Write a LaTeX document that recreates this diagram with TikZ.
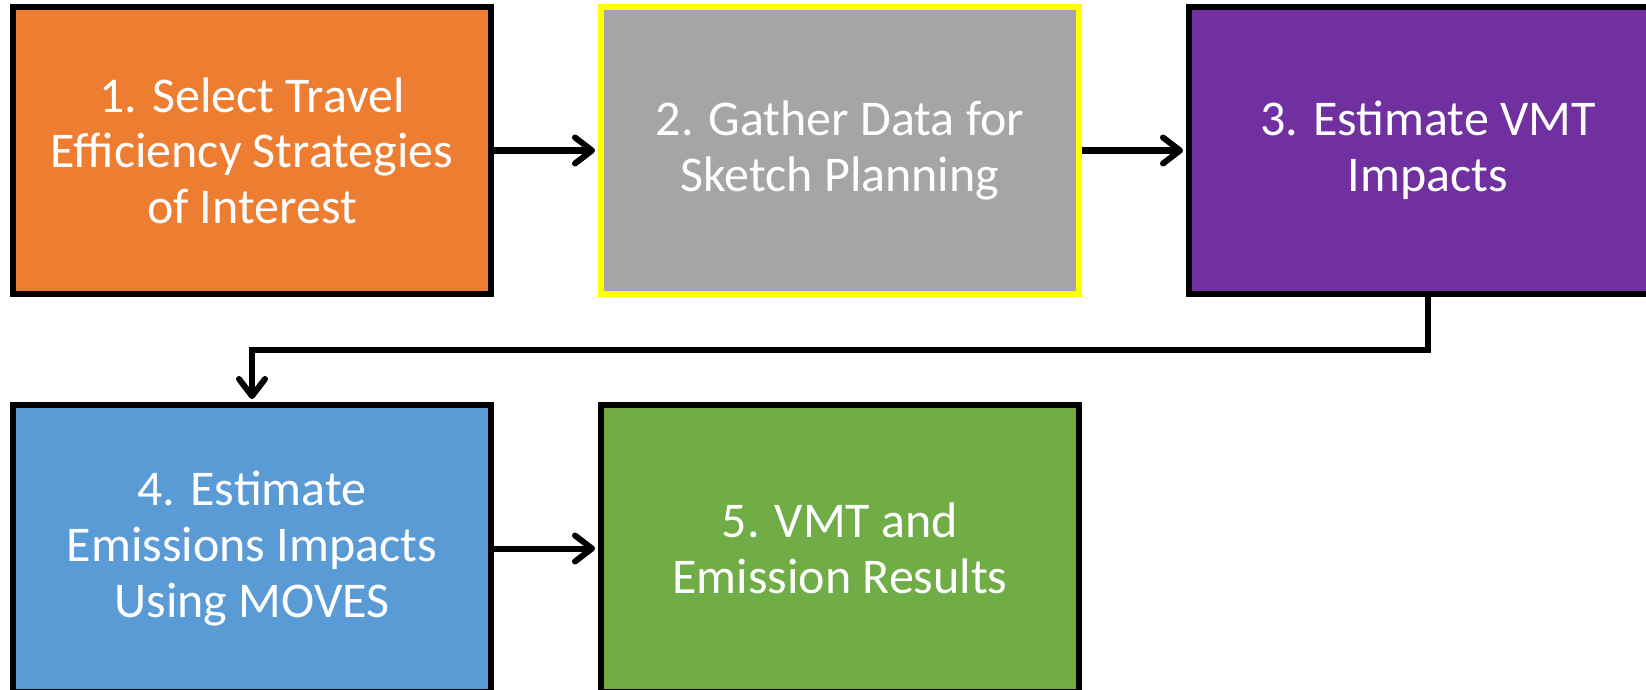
\documentclass[tikz,border=0pt]{standalone}
\usepackage{fontspec}
\setmainfont{Carlito}
\usetikzlibrary{arrows.meta}
\definecolor{cOrange}{HTML}{ED7D31}
\definecolor{cGrey}{HTML}{A5A5A5}
\definecolor{cPurple}{HTML}{7030A0}
\definecolor{cBlue}{HTML}{5B9BD5}
\definecolor{cGreen}{HTML}{70AD47}
\definecolor{cYellow}{HTML}{FFFF00}
\tikzset{
  stepbox/.style={draw=black, line width=6pt, minimum width=478pt, minimum height=287pt,
    inner sep=0pt, align=center, text=white, font=\fontsize{50}{55.6}\selectfont},
  flow/.style={line width=6pt, -{Straight Barb[length=17pt,width=26pt,line cap=round,line join=round]}, shorten >=3pt}
}
\begin{document}
\begin{tikzpicture}[x=1pt,y=-1pt]
\useasboundingbox (0,0) rectangle (1646,690);
\clip (0,0) rectangle (1646,690);
\node[stepbox, fill=cOrange] (s1) at (252,150.5) {1. Select Travel\\Efficiency Strategies\\of Interest};
\node[stepbox, fill=cGrey, draw=cYellow] (s2) at (840,150.5) {2. Gather Data for\\Sketch Planning};
\node[stepbox, fill=cPurple] (s3) at (1428,150.5) {3. Estimate VMT\\Impacts};
\node[stepbox, fill=cBlue] (s4) at (252,548.5) {4. Estimate\\Emissions Impacts\\Using MOVES};
\node[stepbox, fill=cGreen] (s5) at (840,548.5) {5. VMT and\\Emission Results};
\coordinate (bend) at (1428,350);
\draw[flow] (s1.east) -- (s2.west);
\draw[flow] (s2.east) -- (s3.west);
\draw[flow, line join=miter] (s3.south) -- (bend) -| (s4.north);
\draw[flow] (s4.east) -- (s5.west);
\end{tikzpicture}
\end{document}
